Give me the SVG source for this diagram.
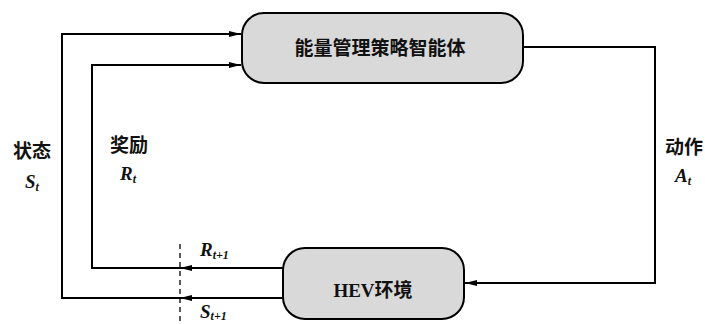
<svg xmlns="http://www.w3.org/2000/svg" width="705" height="324" viewBox="0 0 705 324">
<style>
.box{fill:#d9d9d9;stroke:#000;stroke-width:2}
.ln{fill:none;stroke:#000;stroke-width:2}
.cjk{font-family:"Noto Sans CJK SC",sans-serif;font-size:19px;font-weight:bold;fill:#111}
.var{font-family:"Liberation Serif",serif;font-style:italic;font-weight:bold;font-size:19px;fill:#111}
.sub{font-size:12px}
.en{font-family:"Liberation Serif","Noto Sans CJK SC",serif;font-weight:bold;font-size:19px;fill:#111}
</style>
<defs>
<marker id="arr" viewBox="0 0 12 6" refX="12" refY="3" markerWidth="12" markerHeight="6" markerUnits="userSpaceOnUse" orient="auto">
<path d="M0,0 L12,3 L0,6 Z" fill="#000"/>
</marker>
</defs>
<rect width="705" height="324" fill="#fff"/>
<g id="agent">
<rect class="box" x="242" y="13" width="281" height="70" rx="22" ry="22"/>
<text class="cjk" x="380" y="55" text-anchor="middle" font-size="20">能量管理策略智能体</text>
</g>
<g id="env">
<rect class="box" x="283" y="248" width="181" height="71" rx="22" ry="22"/>
<text class="en" x="373" y="297" text-anchor="middle">HEV<tspan font-family="Noto Sans CJK SC" font-size="19">环境</tspan></text>
</g>
<g id="connectors">
<path class="ln" d="M283,298 H62 V34 H241" marker-end="url(#arr)"/>
<path class="ln" d="M283,268 H92 V65 H241" marker-end="url(#arr)"/>
<path class="ln" d="M283,298 H180" marker-end="url(#arr)"/>
<path class="ln" d="M283,268 H180" marker-end="url(#arr)"/>
<path class="ln" d="M523,47 H655 V283 H465" marker-end="url(#arr)"/>
<line x1="180" y1="244" x2="180" y2="324" stroke="#000" stroke-width="1.3" stroke-dasharray="5,4"/>
</g>
<g id="labels">
<text class="cjk" x="32" y="158" text-anchor="middle">状态</text>
<text class="var" x="25" y="188">S<tspan class="sub" dy="3">t</tspan></text>
<text class="cjk" x="129" y="152" text-anchor="middle">奖励</text>
<text class="var" x="120" y="180">R<tspan class="sub" dy="3">t</tspan></text>
<text class="cjk" x="684" y="154" text-anchor="middle">动作</text>
<text class="var" x="675" y="182">A<tspan class="sub" dy="3">t</tspan></text>
<text class="var" x="200" y="256">R<tspan class="sub" dy="3">t+1</tspan></text>
<text class="var" x="200" y="318">S<tspan class="sub" dy="2">t+1</tspan></text>
</g>
</svg>
